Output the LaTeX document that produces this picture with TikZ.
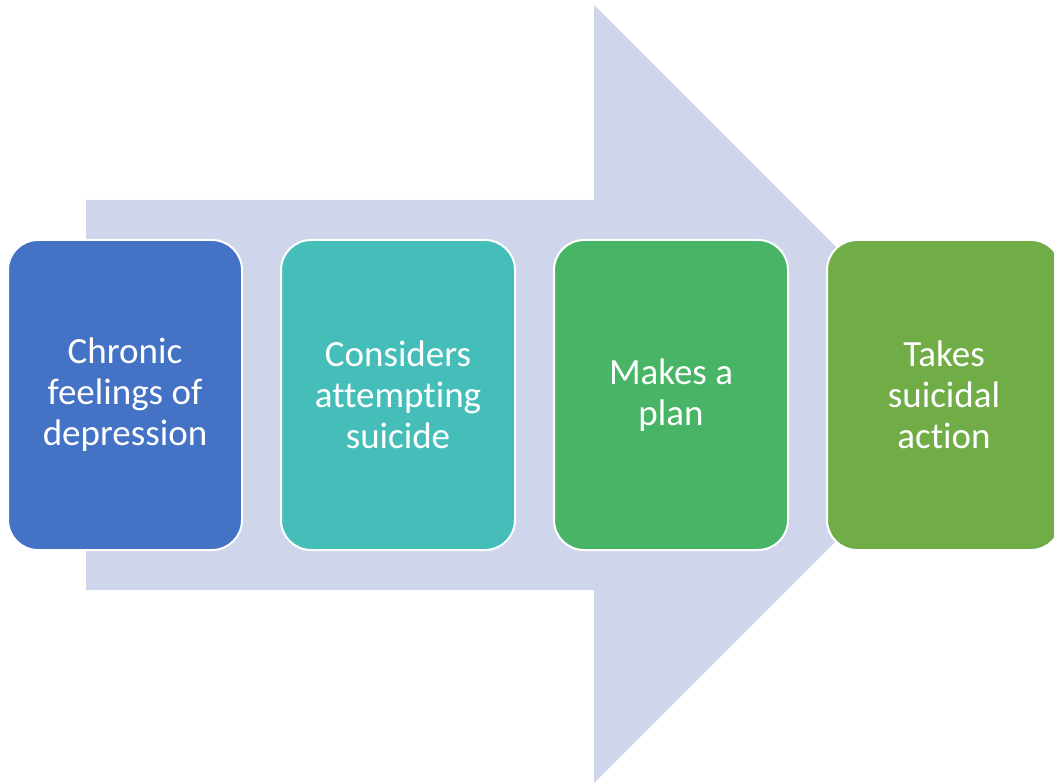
\documentclass[tikz,border=0pt]{standalone}
\usepackage{fontspec}
\setmainfont[Ligatures=NoCommon]{Carlito}
\usepackage{tikz}
\usetikzlibrary{positioning}

\definecolor{arrowbg}{HTML}{CFD5EA}
\definecolor{stepblue}{HTML}{4472C4}
\definecolor{stepteal}{HTML}{45BEB9}
\definecolor{stepgreen}{HTML}{47B565}
\definecolor{steplime}{HTML}{70AD47}

\begin{document}
\begin{tikzpicture}[x=1pt, y=-1pt,
    stepbox/.style={draw=white, line width=2pt, rounded corners=30pt,
        minimum width=234pt, minimum height=310pt, text=white, align=center,
        font=\fontsize{37}{41}\selectfont}]
        \useasboundingbox (0,0) rectangle (1054,783);
        \clip (0,0) rectangle (1054,783);
        % Big arrow
        \fill[arrowbg] (86,200) -- (594,200) -- (594,5) -- (983,394)
            -- (594,783) -- (594,590) -- (86,590) -- cycle;
        % Steps
        \node[stepbox, fill=stepblue] (chronic) at (125,395) {Chronic\\feelings of\\depression};
        \node[stepbox, fill=stepteal, right=37pt of chronic] (considers) {Considers\\attempting\\suicide};
        \node[stepbox, fill=stepgreen, right=37pt of considers] (plan) {Makes a\\plan};
        \node[stepbox, fill=steplime, right=37pt of plan] (action) {Takes\\suicidal\\action};
    \end{tikzpicture}
\end{document}
